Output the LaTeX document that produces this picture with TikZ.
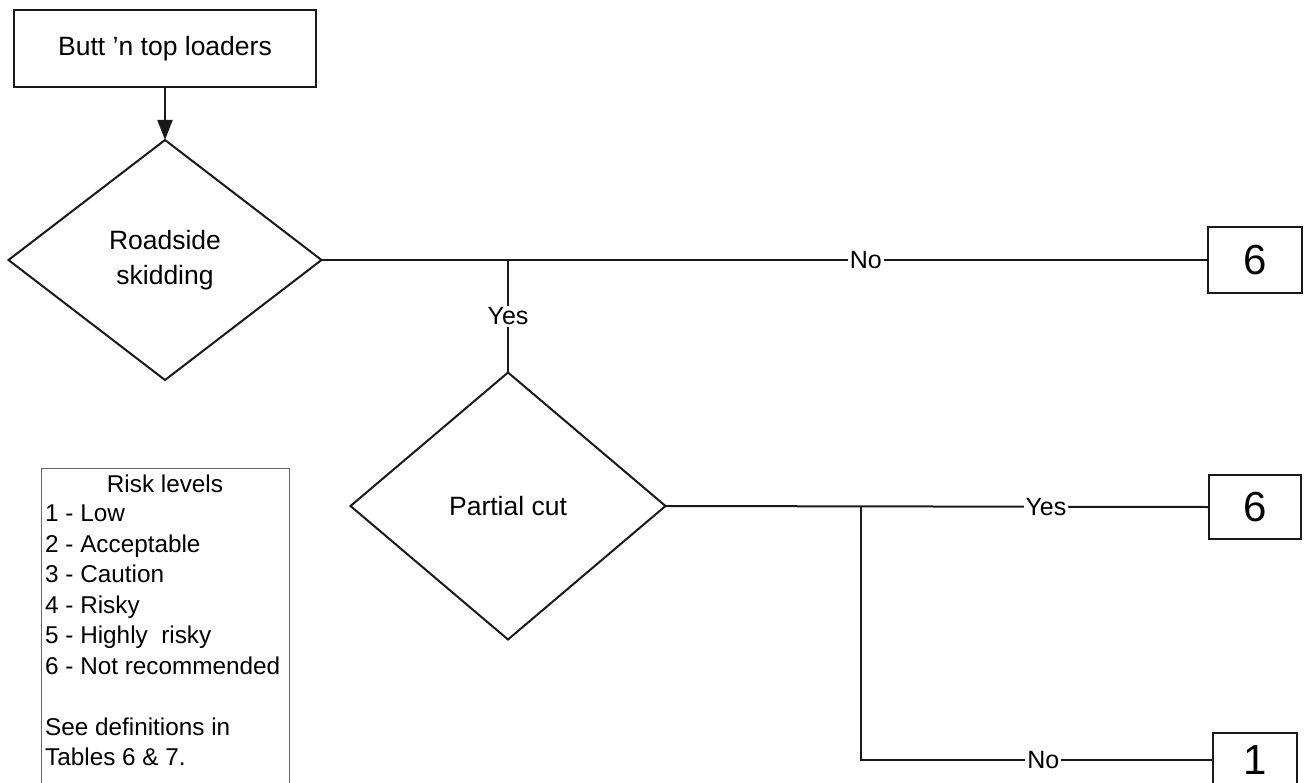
\documentclass[tikz,border=0pt]{standalone}
\usepackage{fontspec}
\setmainfont{Liberation Sans}
\usetikzlibrary{shapes.geometric,arrows.meta,positioning}

\tikzset{
  flow/.style={line width=2pt, draw=black!90},
  box/.style={draw=black!90, line width=2pt, inner sep=0pt, outer sep=0pt,
    align=center, font=\fontsize{26.5}{35}\selectfont},
  decision/.style={diamond, draw=black!90, line width=2pt, inner sep=0pt,
    outer sep=0pt, align=center, font=\fontsize{26.5}{35}\selectfont},
  risk/.style={box, font=\fontsize{42}{48}\selectfont},
  answer/.style={fill=white, inner sep=2pt, font=\fontsize{25}{30}\selectfont},
  legendtext/.style={inner sep=0pt, font=\fontsize{24.3}{30.5}\selectfont}
}

\begin{document}
\begin{tikzpicture}[x=1pt,y=-1pt]
  \useasboundingbox (0,0) rectangle (1304,782);
  \clip (0,0) rectangle (1304,782);

  % Start
  \node[box, minimum width=302pt, minimum height=77pt] (start) at (165,48.5) {Butt 'n top loaders};

  % Decisions
  \node[decision, minimum width=313pt, minimum height=240pt] (skid) at (165,260) {Roadside\\skidding};
  \node[decision, minimum width=315pt, minimum height=267pt] (cut) at (508,506) {Partial cut};

  % Risk outcomes
  \node[risk, minimum width=94pt, minimum height=66pt] (skidno) at (1255,260) {6};
  \node[risk, minimum width=92pt, minimum height=64pt] (cutyes) at (1255,507) {6};
  \node[risk, minimum width=84pt, minimum height=54pt] (cutno) at (1255,760) {1};

  % Connectors
  \coordinate (skidjoin) at (508,260);
  \coordinate (cutjoin) at (861,506);
  \draw[flow, -{Triangle[width=15pt,length=20pt]}] (start) -- (skid);
  \draw[flow] (skid.east) -- node[answer, pos=0.614] {No} (skidno.west);
  \draw[flow] (skidjoin) -- node[answer] {Yes} (cut.north);
  \draw[flow] (cut.east) -- node[answer, pos=0.70] {Yes} (cutyes.west);
  \draw[flow] (cutjoin) |- node[answer, pos=0.759] {No} (cutno.west);

  % Legend
  \draw[line width=0.8pt, draw=black!60] (41,468) rectangle (289,800);
  \node[legendtext, anchor=base] (risktitle) at (165,492) {Risk levels};
  \node[legendtext, anchor=north west, align=left] (risklist) at (45,505)
    {1 - Low\\2 - Acceptable\\3 - Caution\\4 - Risky\\5 - Highly\ \ risky\\6 - Not recommended\\[30.5pt]See definitions in\\Tables 6 \& 7.};
\end{tikzpicture}
\end{document}
